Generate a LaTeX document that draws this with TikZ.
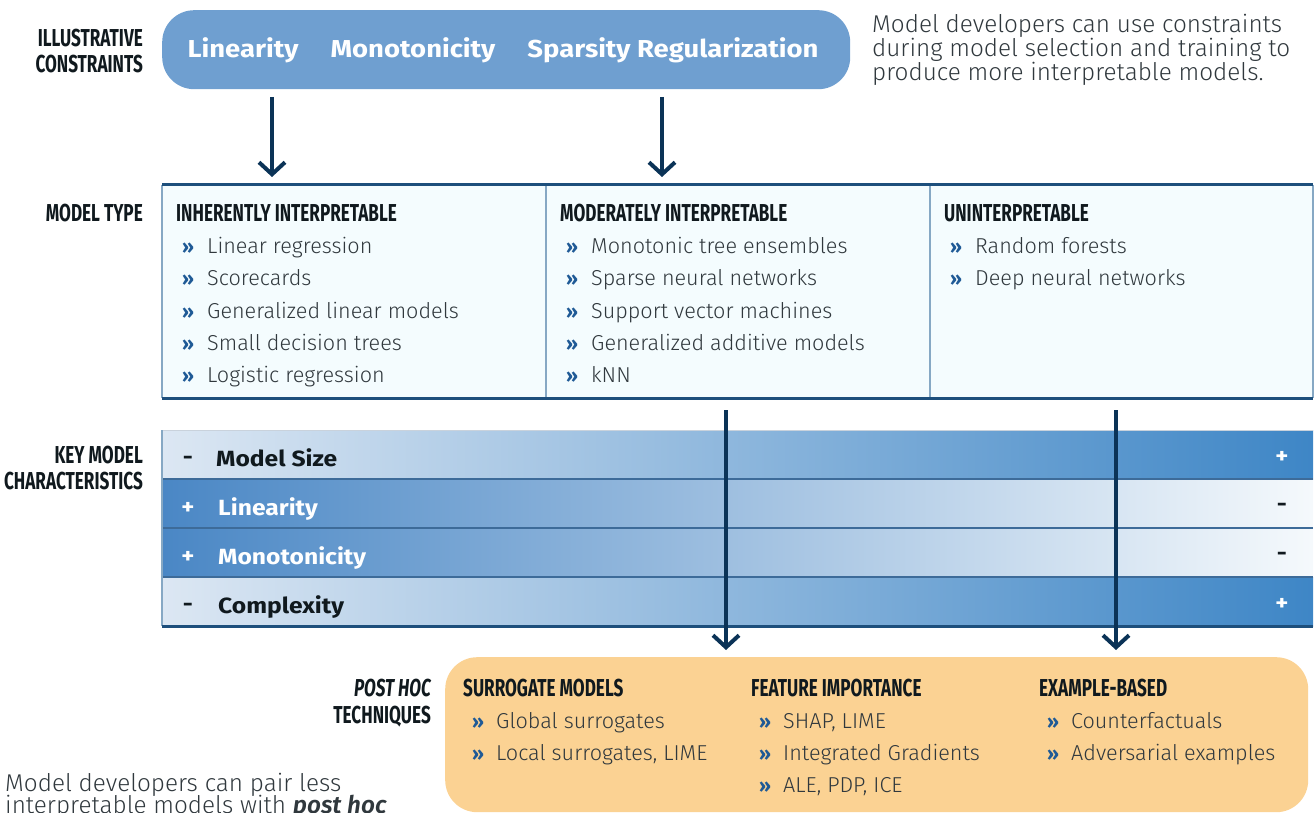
\documentclass[tikz,border=0pt]{standalone}
\usepackage{fontspec}
\setmainfont{Fira Sans}
\newfontfamily\lightf{Fira Sans Light}
\newfontfamily\condf[FakeStretch=0.70]{Fira Sans}
\newfontfamily\widef[FakeStretch=1.12]{Fira Sans}
\usetikzlibrary{arrows.meta}
\definecolor{navy}{HTML}{0B3357}
\definecolor{topblue}{HTML}{6F9FD0}
\definecolor{tblfill}{HTML}{F4FCFE}
\definecolor{tblline}{HTML}{1D4F7C}
\definecolor{tblside}{HTML}{86A8C4}
\definecolor{bulletc}{HTML}{1F5A96}
\definecolor{bodytxt}{HTML}{30383D}
\definecolor{headtxt}{HTML}{10191E}
\definecolor{barlight}{HTML}{DCE7F3}
\definecolor{bardark}{HTML}{3E86C6}
\definecolor{barleft}{HTML}{4A87C5}
\definecolor{barright}{HTML}{F5F9FC}
\definecolor{barsep}{HTML}{3D6B99}
\definecolor{orangebox}{HTML}{FBD293}
\tikzset{
  lbl/.style={anchor=base east, font=\condf\bfseries\fontsize{24.5}{24}\selectfont, text=headtxt, inner sep=0pt},
  hd/.style={anchor=base west, font=\condf\bfseries\fontsize{24.5}{24}\selectfont, text=headtxt, inner sep=0pt},
  itm/.style={anchor=base west, font=\lightf\fontsize{21.6}{24}\selectfont, text=bodytxt, inner sep=0pt},
  bul/.style={anchor=base west, font=\bfseries\fontsize{19}{20}\selectfont, text=bulletc, inner sep=0pt},
  para/.style={anchor=base west, align=left, font=\lightf\fontsize{24.3}{24}\selectfont, text=bodytxt, inner sep=0pt},
  constxt/.style={anchor=base, font=\widef\bfseries\fontsize{24.5}{24}\selectfont, text=white, inner sep=0pt},
  rowtxt/.style={anchor=base west, font=\widef\bfseries\fontsize{22}{24}\selectfont, inner sep=0pt},
  sgn/.style={anchor=base, font=\widef\bfseries\fontsize{22}{24}\selectfont, inner sep=0pt},
  bigarrow/.style={draw=navy, line width=4pt, -{Straight Barb[length=12pt,width=26pt]}},
  barsepline/.style={draw=barsep, line width=1.5pt},
}
\begin{document}
\begin{tikzpicture}[x=1pt,y=-1pt]
\useasboundingbox (0,0) rectangle (1315,813);

% ---------- constraints ----------
\node[lbl] (l1a) at (143,47) {ILLUSTRATIVE};
\node[lbl] (l1b) at (143,73) {CONSTRAINTS};
\node[fill=topblue, rounded corners=32pt, minimum width=688pt, minimum height=79pt, anchor=north west, inner sep=0pt] (cons) at (162,10) {};
\node[constxt] (clin) at (243,58) {Linearity};
\node[constxt] (cmono) at (413,58) {Monotonicity};
\node[constxt] (cspar) at (673,58) {Sparsity Regularization};

\node[para] (ptop1) at (872,33) {Model developers can use constraints};
\node[para] (ptop2) at (872,57) {during model selection and training to};
\node[para] (ptop3) at (872,81) {produce more interpretable models.};

\coordinate (a1s) at (272,97);
\coordinate (a1e) at (272,177);
\coordinate (a2s) at (662,97);
\coordinate (a2e) at (662,177);
\draw[bigarrow] (a1s) -- (a1e);
\draw[bigarrow] (a2s) -- (a2e);

% ---------- model type table ----------
\node[lbl] (l2) at (143,222) {MODEL TYPE};
\node[fill=tblfill, minimum width=1151pt, minimum height=213pt, anchor=north west, inner sep=0pt] (tbl) at (162,185) {};
\draw[tblside, line width=2pt] (tbl.north west) -- (tbl.south west);
\draw[tblside, line width=2pt] (tbl.north east) -- (tbl.south east);
\coordinate (d1t) at (546,185); \coordinate (d1b) at (546,398);
\coordinate (d2t) at (930,185); \coordinate (d2b) at (930,398);
\draw[tblside, line width=2pt] (d1t) -- (d1b);
\draw[tblside, line width=2pt] (d2t) -- (d2b);
\draw[tblline, line width=3pt] (tbl.north west) -- (tbl.north east);
\draw[tblline, line width=3pt] (tbl.south west) -- (tbl.south east);

\node[hd] (h1) at (176,222) {INHERENTLY INTERPRETABLE};
\foreach \t [count=\i] in {Linear regression, Scorecards, Generalized linear models, Small decision trees, Logistic regression}{
  \node[bul] (b1\i) at (182,{254+32*(\i-1)}) {»};
  \node[itm] (i1\i) at (207,{254+32*(\i-1)}) {\t};
}
\node[hd] (h2) at (560,222) {MODERATELY INTERPRETABLE};
\foreach \t [count=\i] in {Monotonic tree ensembles, Sparse neural networks, Support vector machines, Generalized additive models, kNN}{
  \node[bul] (b2\i) at (566,{254+32*(\i-1)}) {»};
  \node[itm] (i2\i) at (591,{254+32*(\i-1)}) {\t};
}
\node[hd] (h3) at (944,222) {UNINTERPRETABLE};
\foreach \t [count=\i] in {Random forests, Deep neural networks}{
  \node[bul] (b3\i) at (950,{254+32*(\i-1)}) {»};
  \node[itm] (i3\i) at (975,{254+32*(\i-1)}) {\t};
}

% ---------- key model characteristics ----------
\node[lbl] (l3a) at (143,463) {KEY MODEL};
\node[lbl] (l3b) at (143,489) {CHARACTERISTICS};
\shade[left color=barlight, right color=bardark] (162,430) rectangle (1313,479);
\shade[left color=barleft, right color=barright] (162,479) rectangle (1313,528);
\shade[left color=barleft, right color=barright] (162,528) rectangle (1313,577);
\shade[left color=barlight, right color=bardark] (162,577) rectangle (1313,626);
\draw[draw=barlight!80!gray, line width=1pt] (162,430) -- (1313,430);
\draw[barsepline] (162,479) -- (1313,479);
\draw[barsepline] (162,528) -- (1313,528);
\draw[barsepline] (162,577) -- (1313,577);
\draw[tblside, line width=1.5pt] (162,430) -- (162,626);
\draw[tblline, line width=3pt] (162,626) -- (1313,626);

\node[sgn, text=headtxt] (s1l) at (188,464) {-};
\node[rowtxt, text=headtxt] (r1) at (216,466) {Model Size};
\node[sgn, text=white] (s1r) at (1282,463) {+};
\node[sgn, text=white] (s2l) at (188,514) {+};
\node[rowtxt, text=white] (r2) at (218,515) {Linearity};
\node[sgn, text=headtxt] (s2r) at (1282,511) {-};
\node[sgn, text=white] (s3l) at (188,563) {+};
\node[rowtxt, text=white] (r3) at (218,564) {Monotonicity};
\node[sgn, text=headtxt] (s3r) at (1282,560) {-};
\node[sgn, text=headtxt] (s4l) at (188,611) {-};
\node[rowtxt, text=headtxt] (r4) at (218,613) {Complexity};
\node[sgn, text=white] (s4r) at (1282,610) {+};

\coordinate (a3s) at (726,410);
\coordinate (a3e) at (726,650);
\coordinate (a4s) at (1116,410);
\coordinate (a4e) at (1116,650);
\draw[bigarrow] (a3s) -- (a3e);
\draw[bigarrow] (a4s) -- (a4e);

% ---------- post hoc ----------
\node[lbl, font=\condf\bfseries\itshape\fontsize{24.5}{24}\selectfont] (l4a) at (431,696) {POST HOC};
\node[lbl] (l4b) at (431,723) {TECHNIQUES};
\node[fill=orangebox, rounded corners=32pt, minimum width=863pt, minimum height=155pt, anchor=north west, inner sep=0pt] (ph) at (445,657) {};

\node[hd] (p1) at (463,696) {SURROGATE MODELS};
\foreach \t [count=\i] in {Global surrogates, {Local surrogates, LIME}}{
  \node[bul] (pb1\i) at (472,{728+32*(\i-1)}) {»};
  \node[itm] (pi1\i) at (496,{728+32*(\i-1)}) {\t};
}
\node[hd] (p2) at (751,696) {FEATURE IMPORTANCE};
\foreach \t [count=\i] in {{SHAP, LIME}, Integrated Gradients, {ALE, PDP, ICE}}{
  \node[bul] (pb2\i) at (759,{728+32*(\i-1)}) {»};
  \node[itm] (pi2\i) at (783,{728+32*(\i-1)}) {\t};
}
\node[hd] (p3) at (1039,696) {EXAMPLE-BASED};
\foreach \t [count=\i] in {Counterfactuals, Adversarial examples}{
  \node[bul] (pb3\i) at (1047,{728+32*(\i-1)}) {»};
  \node[itm] (pi3\i) at (1071,{728+32*(\i-1)}) {\t};
}

\node[para] (pbot1) at (5,791) {Model developers can pair less};
\node[para] (pbot2) at (5,813) {interpretable models with \textbf{\textit{post hoc}}};
\end{tikzpicture}
\end{document}
